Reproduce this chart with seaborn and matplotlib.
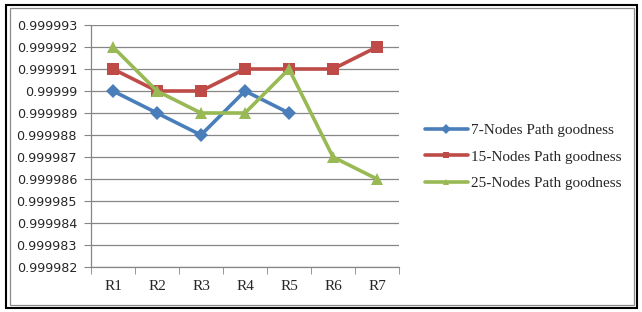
import numpy as np
import pandas as pd
import matplotlib
matplotlib.use("Agg")
import matplotlib.pyplot as plt
import seaborn as sns
from matplotlib.patches import Rectangle

categories = ["R1", "R2", "R3", "R4", "R5", "R6", "R7"]
s7 = [0.999990, 0.999989, 0.999988, 0.999990, 0.999989, np.nan, np.nan]
s15 = [0.999991, 0.999990, 0.999990, 0.999991, 0.999991, 0.999991, 0.999992]
s25 = [0.999992, 0.999990, 0.999989, 0.999989, 0.999991, 0.999987, 0.999986]
series_names = ["7-Nodes Path goodness", "15-Nodes Path goodness", "25-Nodes Path goodness"]
yticks = [0.999982 + i * 0.000001 for i in range(12)]
ytick_labels = ["0.999982", "0.999983", "0.999984", "0.999985", "0.999986", "0.999987",
                "0.999988", "0.999989", "0.99999", "0.999991", "0.999992", "0.999993"]

rows = []
for name, vals in zip(series_names, [s7, s15, s25]):
    for i, (c, v) in enumerate(zip(categories, vals)):
        rows.append({"x": i, "cat": c, "value": v, "series": name})
df = pd.DataFrame(rows)

sns.set_style("white")
fig = plt.figure(figsize=(6.42, 3.12), dpi=100)
ax = fig.add_axes([0.1417, 0.1442, 0.4798, 0.7757])

palette = {series_names[0]: "#4A7EBB", series_names[1]: "#BE4B48", series_names[2]: "#98B954"}
markers = {series_names[0]: "D", series_names[1]: "s", series_names[2]: "^"}
sizes = {series_names[0]: 7, series_names[1]: 9, series_names[2]: 9}
for name in series_names:
    sub = df[df["series"] == name].dropna()
    sns.lineplot(data=sub, x="x", y="value", ax=ax, color=palette[name], linewidth=2.6,
                 marker=markers[name], markersize=sizes[name], markeredgewidth=0,
                 label=name, sort=False)

ax.set_xlim(-0.5, 6.5)
ax.set_ylim(yticks[0], yticks[-1])
ax.set_yticks(yticks)
ax.set_yticklabels(ytick_labels, fontsize=9.2, family="DejaVu Sans")
ax.set_xticks(range(len(categories)))
ax.set_xticklabels(categories, fontsize=11, family="Liberation Serif")
ax.set_xticks(np.arange(-0.5, 7, 1), minor=True)
ax.tick_params(axis="x", which="major", length=0, pad=9)
ax.tick_params(axis="x", which="minor", length=5, color="#868686", direction="out", bottom=True)
ax.tick_params(axis="y", length=5, color="#868686", direction="out", left=True, pad=5)
ax.grid(axis="y", color="#868686", linewidth=0.9)
ax.set_axisbelow(True)
for side in ["top", "right"]:
    ax.spines[side].set_visible(False)
for side in ["left", "bottom"]:
    ax.spines[side].set_color("#868686")
    ax.spines[side].set_linewidth(0.9)
ax.set_xlabel("")
ax.set_ylabel("")

leg = ax.legend(loc="center left", bbox_to_anchor=(1.04, 0.455), frameon=False,
                prop={"family": "Liberation Serif", "size": 11}, handlelength=2.8,
                labelspacing=0.85, handletextpad=0.2)
for h in leg.get_lines():
    h.set_markersize(5)

fig.patches.append(Rectangle((6 / 642, 1 - 308 / 312), 631 / 642, 303 / 312, transform=fig.transFigure,
                             fill=False, edgecolor="black", linewidth=1.5))
fig.patches.append(Rectangle((10.5 / 642, 1 - 305 / 312), 623.5 / 642, 297 / 312, transform=fig.transFigure,
                             fill=False, edgecolor="#8a8a8a", linewidth=0.9))

fig.savefig("out.png", dpi=100)
